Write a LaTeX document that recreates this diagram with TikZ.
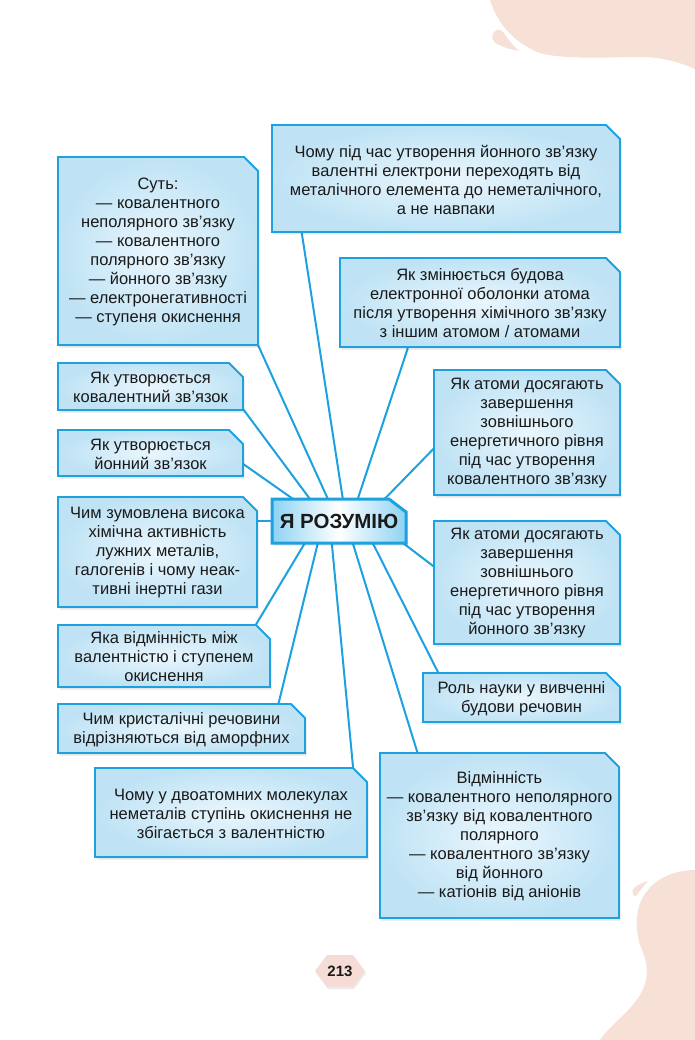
\documentclass[tikz,border=0pt]{standalone}
\usepackage{fontspec}
\setmainfont{Liberation Sans}
\usetikzlibrary{calc}
\definecolor{lineblue}{HTML}{1DA1DF}
\definecolor{boxin}{HTML}{EAF6FD}
\definecolor{boxout}{HTML}{BFE3F5}
\definecolor{cenblue}{HTML}{8ED3F3}
\definecolor{pinkc}{HTML}{F7E0D6}
\definecolor{hexpink}{HTML}{F6DCD6}
\definecolor{txt}{HTML}{1A1A1A}
\pgfdeclarelayer{back}
\pgfdeclarelayer{bg}
\pgfsetlayers{back,bg,main}
\tikzset{
  boxtext/.style={inner sep=0pt, align=center, text=txt, font=\fontsize{16.5}{19}\selectfont},
  boxline/.style={draw=lineblue, line width=1.8pt, line join=miter, inner color=boxin, outer color=boxout},
  conn/.style={draw=lineblue, line width=2pt},
  shadowc/.style={fill=black, opacity=0.10},
  blob/.style={fill=pinkc},
}
\newcommand\mmbox[6]{%
  \fill[shadowc] (#2+1.5,#3+2.5) -- (#4+1.5-14,#3+2.5) -- (#4+1.5,#3+2.5+14) -- (#4+1.5,#5+2.5) -- (#2+1.5,#5+2.5) -- cycle;
  \path[boxline] (#2,#3) -- (#4-14,#3) -- (#4,#3+14) -- (#4,#5) -- (#2,#5) -- cycle;
  \node[boxtext, minimum width=#4-#2, minimum height=#5-#3] (#1) at ({(#2+#4)/2},{(#3+#5)/2+1}) {#6};
}
\begin{document}
\begin{tikzpicture}[x=1pt,y=-1pt]
\useasboundingbox (0,0) rectangle (695,1040);
\begin{pgfonlayer}{back}
\fill[white] (0,0) rectangle (695,1040);
% background blobs
\fill[blob] (490,0) .. controls (497,22) and (512,42) .. (540,53) .. controls (565,60) and (610,57) .. (645,57) .. controls (665,58) and (682,63) .. (695,69) -- (695,0) -- cycle;
\fill[blob] (497,30) .. controls (490,33) and (491,42) .. (499,45) .. controls (506,48) and (513,50) .. (519,51) .. controls (512,45) and (506,36) .. (503,32) .. controls (501,30) and (499,29) .. (497,30) -- cycle;
\fill[blob] (695,870) .. controls (680,870) and (660,875) .. (648,890) .. controls (636,903) and (634,925) .. (640,945) .. controls (648,962) and (650,978) .. (640,995) .. controls (630,1012) and (610,1025) .. (600,1040) -- (695,1040) -- cycle;
\fill[blob] (633,894) .. controls (630,889) and (638,884) .. (648,881) .. controls (643,887) and (638,893) .. (636,896) .. controls (635,897) and (633,896) .. (633,894) -- cycle;
\end{pgfonlayer}
% page number
\fill[black,opacity=0.08] (316,973) -- (328,957) -- (354,957) -- (366,973) -- (354,989) -- (328,989) -- cycle;
\fill[hexpink] (315,971) -- (327,955) -- (353,955) -- (365,971) -- (353,987) -- (327,987) -- cycle;
\node[font=\bfseries\fontsize{15}{18}\selectfont, text=txt] (pg) at (340,971) {213};
% boxes
\mmbox{b1}{58}{157}{258}{345}{Суть:\\— ковалентного\\неполярного зв’язку\\— ковалентного\\полярного зв’язку\\— йонного зв’язку\\— електронегативності\\— ступеня окиснення}
\mmbox{b2}{272}{125}{620}{232}{Чому під час утворення йонного зв’язку\\валентні електрони переходять від\\металічного елемента до неметалічного,\\а не навпаки}
\mmbox{b3}{340}{258}{620}{347}{Як змінюється будова\\електронної оболонки атома\\після утворення хімічного зв’язку\\з іншим атомом / атомами}
\mmbox{b4}{434}{370}{620}{495}{Як атоми досягають\\завершення\\зовнішнього\\енергетичного рівня\\під час утворення\\ковалентного зв’язку}
\mmbox{b5}{58}{363}{243}{410}{Як утворюється\\ковалентний зв’язок}
\mmbox{b6}{58}{430}{243}{476}{Як утворюється\\йонний зв’язок}
\mmbox{b8}{58}{497}{257}{607}{Чим зумовлена висока\\хімічна активність\\лужних металів,\\галогенів і чому неак-\\тивні інертні гази}
\mmbox{b9}{434}{521}{620}{644}{Як атоми досягають\\завершення\\зовнішнього\\енергетичного рівня\\під час утворення\\йонного зв’язку}
\mmbox{b10}{58}{625}{270}{687}{Яка відмінність між\\валентністю і ступенем\\окиснення}
\mmbox{b11}{423}{673}{620}{722}{Роль науки у вивченні\\будови речовин}
\mmbox{b12}{58}{704}{305}{753}{Чим кристалічні речовини\\відрізняються від аморфних}
\mmbox{b13}{95}{768}{367}{857}{Чому у двоатомних молекулах\\неметалів ступінь окиснення не\\збігається з валентністю}
\mmbox{b14}{380}{753}{619}{918}{Відмінність\\— ковалентного неполярного\\зв’язку від ковалентного\\полярного\\— ковалентного зв’язку\\від йонного\\— катіонів від аніонів}
% central node
\fill[shadowc] (273.5,501.5) -- (389.5,501.5) -- (407.5,514.5) -- (407.5,545.5) -- (273.5,545.5) -- cycle;
\path[draw=lineblue, line width=3pt, line join=miter, left color=cenblue, right color=cenblue, middle color=white] (272,499) -- (389,499) -- (406,512) -- (406,543) -- (272,543) -- cycle;
\node[font=\bfseries\fontsize{20.5}{23}\selectfont, text=txt, minimum width=134pt, minimum height=44pt, inner sep=0pt] (c) at (339,521) {Я РОЗУМІЮ};
% connectors
\begin{pgfonlayer}{bg}
\draw[conn] ([yshift=-10pt]b6.east) -- ([xshift=21pt]c.north west);
\draw[conn] ([yshift=2pt]b5.south east) -- ([xshift=38pt]c.north west);
\draw[conn] ([xshift=-1pt,yshift=3pt]b1.south east) -- ([xshift=56pt]c.north west);
\draw[conn] ([xshift=30pt]b2.south west) -- ([xshift=71pt]c.north west);
\draw[conn] ([xshift=68pt]b3.south west) -- ([xshift=86pt]c.north west);
\draw[conn] ([yshift=-15pt]b4.west) -- ([xshift=113pt]c.north west);
\draw[conn] (c.west) -- (c.west -| b8.east);
\draw[conn] ([yshift=17pt]b9.west) -- ([xshift=-3pt]c.south east);
\draw[conn] ([xshift=33pt]c.south west) -- ([xshift=-15pt]b10.north east);
\draw[conn] ([xshift=46pt]c.south west) -- ([xshift=-27pt]b12.north east);
\draw[conn] ([xshift=60pt]c.south west) -- ([xshift=-14pt]b13.north east);
\draw[conn] ([xshift=81pt]c.south west) -- ([xshift=38pt]b14.north west);
\draw[conn] ([xshift=101pt]c.south west) -- ([xshift=16pt]b11.north west);
\end{pgfonlayer}
\end{tikzpicture}
\end{document}
